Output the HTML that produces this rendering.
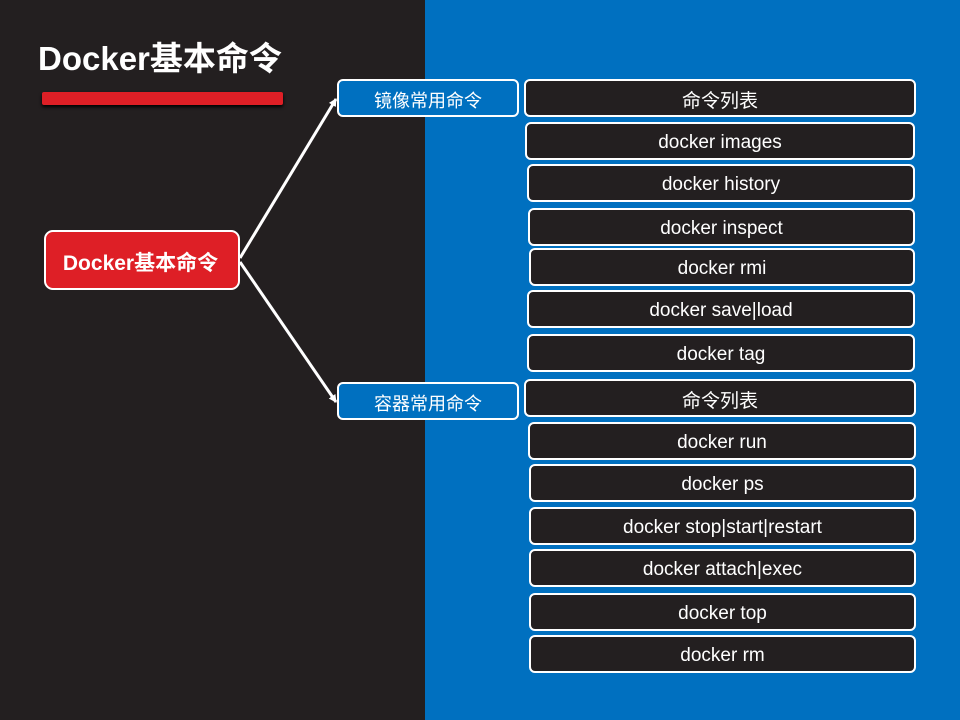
<!DOCTYPE html>
<html><head><meta charset="utf-8"><style>
body{margin:0;width:960px;height:720px;position:relative;overflow:hidden;background:#231f20;font-family:"Liberation Sans","Noto Sans CJK SC",sans-serif}
.blue{position:absolute;left:425px;top:0;width:535px;height:720px;background:#0070c0}
.b{position:absolute;box-sizing:border-box;border:2.5px solid #fff;border-radius:6px;color:#fff;display:flex;align-items:center;justify-content:center;font-size:19px;padding-top:3px}
.k{background:#231f20;height:38px;width:388px}
.m{background:#0070c0;left:337px;width:182px;height:38px;font-size:18px}
</style></head><body>
<div class="blue"></div>
<div style="position:absolute;left:38px;top:32px;color:#fff;font-weight:bold;font-size:33px;">Docker基本命令</div>
<div style="position:absolute;left:42px;top:92px;width:241px;height:13px;background:#de1f26;border-radius:2px;box-shadow:0 2px 3px #000"></div>
<svg style="position:absolute;left:0;top:0" width="960" height="720">
<defs><marker id="a" markerWidth="8" markerHeight="8" refX="7" refY="4" orient="auto" markerUnits="userSpaceOnUse"><path d="M0,0 L8,4 L0,8z" fill="#fff"/></marker></defs>
<line x1="240" y1="258" x2="336" y2="99" stroke="#fff" stroke-width="3" marker-end="url(#a)"/>
<line x1="240" y1="262" x2="336" y2="402" stroke="#fff" stroke-width="3" marker-end="url(#a)"/>
</svg>
<div class="b" style="left:44px;top:230px;width:196px;height:60px;background:#de1f26;border-radius:9px;font-weight:bold;font-size:21px;padding-right:3px">Docker基本命令</div>
<div class="b m" style="top:79px">镜像常用命令</div>
<div class="b m" style="top:382px">容器常用命令</div>
<div class="b k" style="left:524px;top:79px;width:392px">命令列表</div>
<div class="b k" style="left:525px;top:122px;width:390px">docker images</div>
<div class="b k" style="left:527px;top:164px">docker history</div>
<div class="b k" style="left:528px;top:208px;width:387px">docker inspect</div>
<div class="b k" style="left:529px;top:248px;width:386px">docker rmi</div>
<div class="b k" style="left:527px;top:290px">docker save|load</div>
<div class="b k" style="left:527px;top:334px">docker tag</div>
<div class="b k" style="left:524px;top:379px;width:392px">命令列表</div>
<div class="b k" style="left:528px;top:422px">docker run</div>
<div class="b k" style="left:529px;top:464px;width:387px">docker ps</div>
<div class="b k" style="left:529px;top:507px;width:387px">docker stop|start|restart</div>
<div class="b k" style="left:529px;top:549px;width:387px">docker attach|exec</div>
<div class="b k" style="left:529px;top:593px;width:387px">docker top</div>
<div class="b k" style="left:529px;top:635px;width:387px">docker rm</div>
</body></html>
